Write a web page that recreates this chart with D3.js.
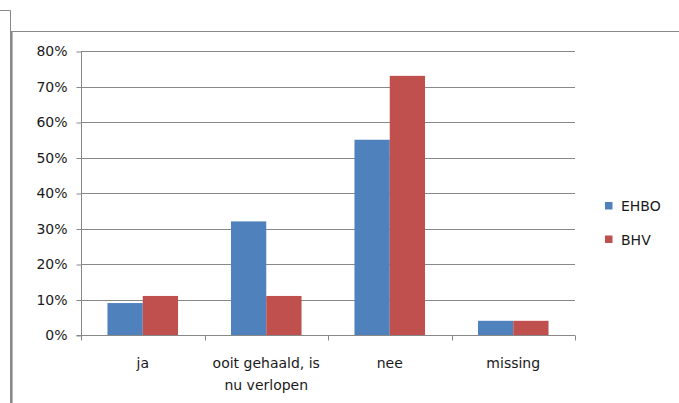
<!DOCTYPE html>
<html>
<head>
<meta charset="utf-8">
<script src="https://cdn.jsdelivr.net/npm/d3@7"></script>
<style>
  html, body { margin: 0; padding: 0; background: #fff; }
  svg { display: block; font-family: "DejaVu Sans", sans-serif; }
</style>
</head>
<body>
<svg id="chart" width="679" height="403"></svg>
<script>
// Categories, series and values (fractions)
const categories = ["ja", "ooit gehaald, is\nnu verlopen", "nee", "missing"];
const seriesNames = ["EHBO", "BHV"];
const ehbo = [0.09, 0.32, 0.55, 0.04];
const bhv = [0.11, 0.11, 0.73, 0.04];
const yTicks = [0, 0.1, 0.2, 0.3, 0.4, 0.5, 0.6, 0.7, 0.8];
const colors = ["#4F81BD", "#C0504D"];

const values = [ehbo, bhv];
const rows = categories.map((c, i) => ({ cat: c, vals: seriesNames.map((s, j) => ({ s, v: values[j][i] })) }));

const svg = d3.select("#chart");
const W = 679, H = 403;
const plotLeft = 81, plotRight = 575, plotTop = 51, plotBottom = 335;
const gray = "#888888";

// outer frame pieces
svg.append("path")
  .attr("d", "M0,10.5 H10.5 V31.5")
  .attr("fill", "none").attr("stroke", gray).attr("stroke-width", 1);
svg.append("line")
  .attr("x1", 11).attr("x2", W).attr("y1", 31.5).attr("y2", 31.5)
  .attr("stroke", gray).attr("stroke-width", 1);
svg.append("line")
  .attr("x1", 11.3).attr("x2", 11.3).attr("y1", 31).attr("y2", H)
  .attr("stroke", gray).attr("stroke-width", 2.6);

const x = d3.scaleBand().domain(categories).range([plotLeft, plotRight]).padding(0);
const xs = d3.scaleBand().domain(seriesNames).range([0, x.bandwidth()])
  .paddingInner(0).paddingOuter(0.75);
const y = d3.scaleLinear().domain([0, 0.8]).range([plotBottom, plotTop]);

// gridlines
svg.append("g").selectAll("line").data(yTicks.slice(1)).join("line")
  .attr("x1", plotLeft).attr("x2", plotRight)
  .attr("y1", d => Math.round(y(d)) + 0.5).attr("y2", d => Math.round(y(d)) + 0.5)
  .attr("stroke", gray).attr("stroke-width", 1);

// bars
const groups = svg.append("g").selectAll("g").data(rows).join("g")
  .attr("transform", d => `translate(${x(d.cat)},0)`);
groups.selectAll("rect").data(d => d.vals).join("rect")
  .attr("x", d => xs(d.s))
  .attr("width", xs.bandwidth())
  .attr("y", d => y(d.v))
  .attr("height", d => y(0) - y(d.v))
  .attr("fill", (d, i) => colors[i]);

// y axis
const yAxis = d3.axisLeft(y).tickValues(yTicks).tickFormat(d3.format(".0%"))
  .tickSize(5).tickPadding(9);
const gy = svg.append("g").attr("transform", `translate(${plotLeft + 0.5},0.5)`).call(yAxis);
gy.select(".domain").attr("stroke", gray).attr("d", `M-5,${Math.round(y(0))}H0V${plotTop}`);
gy.selectAll(".tick line").attr("stroke", gray);
gy.selectAll(".tick text").attr("font-size", 14).attr("fill", "#1a1a1a")
  .attr("font-family", "DejaVu Sans, sans-serif");

// x axis
const gx = svg.append("g").attr("transform", `translate(0,${Math.round(y(0)) + 0.5})`);
gx.append("line").attr("x1", plotLeft).attr("x2", plotRight).attr("stroke", gray);
const boundaries = categories.map(c => x(c)).concat([plotRight]);
gx.selectAll("line.tk").data(boundaries).join("line").attr("class", "tk")
  .attr("x1", d => Math.round(d) + 0.5).attr("x2", d => Math.round(d) + 0.5)
  .attr("y1", 0).attr("y2", 5).attr("stroke", gray);

const labels = svg.append("g").selectAll("text").data(categories).join("text")
  .attr("text-anchor", "middle")
  .attr("font-size", 14).attr("fill", "#1a1a1a")
  .attr("x", d => x(d) + x.bandwidth() / 2)
  .attr("y", 368);
labels.each(function(d) {
  const t = d3.select(this);
  d.split("\n").forEach((line, i) => {
    t.append("tspan").attr("x", x(d) + x.bandwidth() / 2).attr("dy", i ? 22 : 0).text(line);
  });
});

// legend
const legend = svg.append("g").selectAll("g").data(seriesNames).join("g")
  .attr("transform", (d, i) => `translate(605,${202 + i * 33.5})`);
legend.append("rect").attr("width", 7.5).attr("height", 7.5).attr("fill", (d, i) => colors[i]);
legend.append("text").attr("x", 16).attr("y", 9).attr("font-size", 14)
  .attr("fill", "#1a1a1a").text(d => d);
</script>
</body>
</html>
